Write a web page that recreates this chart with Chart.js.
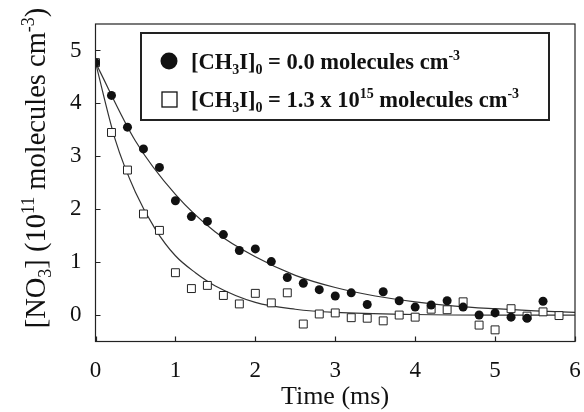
<!DOCTYPE html>
<html>
<head>
<meta charset="utf-8">
<script src="https://cdn.jsdelivr.net/npm/chart.js@4.4.1/dist/chart.umd.min.js"></script>
<style>
html,body{margin:0;padding:0;background:#fff;}
#wrap{width:584px;height:412px;}
</style>
</head>
<body>
<div id="wrap"><canvas id="c" width="584" height="412"></canvas></div>
<script>
// ---- data ----
const timeCircles = [0,0.2,0.4,0.6,0.8,1.0,1.2,1.4,1.6,1.8,2.0,2.2,2.4,2.6,2.8,3.0,3.2,3.4,3.6,3.8,4.0,4.2,4.4,4.6,4.8,5.0,5.2,5.4,5.6];
const no3Circles = [4.77,4.15,3.55,3.14,2.79,2.16,1.86,1.77,1.52,1.22,1.25,1.01,0.71,0.60,0.48,0.36,0.42,0.20,0.44,0.27,0.15,0.19,0.27,0.15,0.00,0.04,-0.04,-0.06,0.26];
const timeSquares = [0,0.2,0.4,0.6,0.8,1.0,1.2,1.4,1.6,1.8,2.0,2.2,2.4,2.6,2.8,3.0,3.2,3.4,3.6,3.8,4.0,4.2,4.4,4.6,4.8,5.0,5.2,5.4,5.6,5.8];
const no3Squares = [4.77,3.45,2.74,1.91,1.60,0.80,0.50,0.56,0.37,0.21,0.41,0.23,0.42,-0.17,0.02,0.04,-0.05,-0.06,-0.11,0.00,-0.04,0.11,0.10,0.25,-0.19,-0.28,0.12,-0.02,0.06,-0.01];
// fitted curves
const fitTimeA = [0,0.5,1,1.5,2,2.5,3,3.5,4,4.5,5,5.5,6];
const fitA = [4.77,3.29,2.28,1.57,1.10,0.75,0.52,0.36,0.25,0.17,0.12,0.08,0.05];
const fitTimeB = [0,0.25,0.5,0.75,1,1.25,1.5,2,2.5,3,4,5,6];
const fitB = [4.77,3.30,2.32,1.62,1.12,0.80,0.55,0.24,0.11,0.05,0.01,0.0,0.0];
const xTicks = [0,1,2,3,4,5,6];
const yTicks = [0,1,2,3,4,5];
const legendLabels = [
  [["[CH",0],["3",-1],["I]",0],["0",-1],[" = 0.0 molecules cm",0],["-3",1]],
  [["[CH",0],["3",-1],["I]",0],["0",-1],[" = 1.3 x 10",0],["15",1],[" molecules cm",0],["-3",1]]
];
const yTitle = [["[NO",0],["3",-1],["] (10",0],["11",1],[" molecules cm",0],["-3",1],[")",0]];
const xTitle = "Time (ms)";

const zip = (xs, ys) => xs.map((x,i)=>({x:x,y:ys[i]}));

function drawRich(ctx, parts, x, y, size, family, weight, align){
  const fontFor = (lvl)=> (weight? weight+' ':'') + (lvl===0? size : Math.round(size*0.62)) + 'px ' + family;
  let total = 0;
  parts.forEach(p=>{ctx.font = fontFor(p[1]); total += ctx.measureText(p[0]).width;});
  let cx = align==='center' ? x - total/2 : x;
  ctx.textBaseline = 'alphabetic';
  ctx.textAlign = 'left';
  parts.forEach(p=>{
    ctx.font = fontFor(p[1]);
    const dy = p[1]===-1 ? size*0.2 : (p[1]===1 ? -size*0.4 : 0);
    ctx.fillText(p[0], cx, y+dy);
    cx += ctx.measureText(p[0]).width;
  });
}

const decor = {
  id:'decor',
  afterDraw(chart){
    const ctx = chart.ctx, a = chart.chartArea;
    const xs = chart.scales.x, ys = chart.scales.y;
    ctx.save();
    ctx.strokeStyle = '#222'; ctx.lineWidth = 1.2;
    ctx.strokeRect(a.left, a.top, a.right-a.left, a.bottom-a.top);
    ctx.beginPath();
    yTicks.forEach(v=>{const p = Math.round(ys.getPixelForValue(v))+0.5; ctx.moveTo(a.left,p); ctx.lineTo(a.left+5,p);});
    xTicks.forEach(v=>{const p = Math.round(xs.getPixelForValue(v))+0.5; ctx.moveTo(p,a.bottom); ctx.lineTo(p,a.bottom-5);});
    ctx.stroke();
    // legend
    const lx = 141, ly = 33, lw = 408, lh = 87;
    ctx.fillStyle = '#fff';
    ctx.fillRect(lx,ly,lw,lh);
    ctx.lineWidth = 2; ctx.strokeStyle = '#222';
    ctx.strokeRect(lx,ly,lw,lh);
    ctx.fillStyle = '#111';
    ctx.beginPath(); ctx.arc(lx+28, ly+28, 8.5, 0, Math.PI*2); ctx.fill();
    ctx.lineWidth = 1.3; ctx.strokeStyle='#111';
    ctx.strokeRect(lx+21, ly+59, 15, 15);
    drawRich(ctx, legendLabels[0], lx+50, ly+36, 22.5, '"Liberation Serif", serif', 'bold', 'left');
    drawRich(ctx, legendLabels[1], lx+50, ly+74, 22.5, '"Liberation Serif", serif', 'bold', 'left');
    // axis titles
    ctx.fillStyle = '#111';
    ctx.font = '26px "Liberation Serif", serif';
    ctx.textAlign='center'; ctx.textBaseline='alphabetic';
    ctx.fillText(xTitle, 335, 404);
    ctx.translate(45, 168);
    ctx.rotate(-Math.PI/2);
    drawRich(ctx, yTitle, 0, 0, 28.5, '"Liberation Serif", serif', '', 'center');
    ctx.restore();
  }
};

new Chart(document.getElementById('c'), {
  type:'scatter',
  data:{datasets:[
    {data:zip(fitTimeA,fitA), showLine:true, borderColor:'#333', borderWidth:1.2, pointRadius:0, cubicInterpolationMode:'monotone', order:3},
    {data:zip(fitTimeB,fitB), showLine:true, borderColor:'#333', borderWidth:1.2, pointRadius:0, cubicInterpolationMode:'monotone', order:3},
    {data:zip(timeCircles,no3Circles), pointStyle:'circle', pointRadius:4.5, backgroundColor:'#111', borderColor:'#111', borderWidth:0, order:1},
    {data:zip(timeSquares,no3Squares), pointStyle:'rect', pointRadius:5.6, backgroundColor:'#fff', borderColor:'#222', borderWidth:1, order:2}
  ]},
  options:{
    responsive:false, animation:false, devicePixelRatio:1,
    layout:{padding:{top:24, right:9, left:0, bottom:0}},
    plugins:{legend:{display:false}, tooltip:{enabled:false}},
    scales:{
      x:{type:'linear', min:0, max:6,
        afterBuildTicks:s=>{s.ticks = xTicks.map(v=>({value:v}));},
        afterFit:s=>{s.height = 70.5; s.paddingLeft = 0; s.paddingRight = 0;},
        grid:{display:false, drawTicks:false}, border:{display:false},
        ticks:{color:'#111', font:{family:'"Liberation Serif", serif', size:23}, padding:16, maxRotation:0}
      },
      y:{type:'linear', min:-0.5, max:5.5,
        afterBuildTicks:s=>{s.ticks = yTicks.map(v=>({value:v}));},
        afterFit:s=>{s.width = 95.5; s.paddingTop = 0; s.paddingBottom = 0;},
        grid:{display:false, drawTicks:false}, border:{display:false},
        ticks:{color:'#111', font:{family:'"Liberation Serif", serif', size:23}, padding:14}
      }
    }
  },
  plugins:[decor]
});
</script>
</body>
</html>
